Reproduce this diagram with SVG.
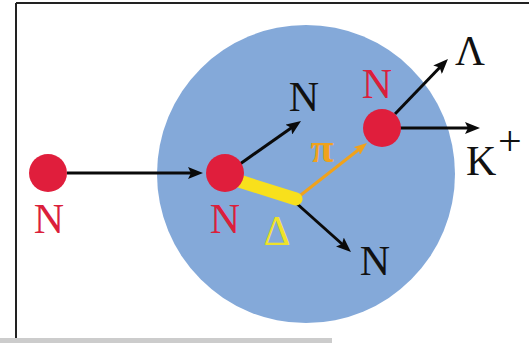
<svg xmlns="http://www.w3.org/2000/svg" width="529" height="343" viewBox="0 0 529 343">
  <style>
    .lbl { font-family: "Liberation Serif", "Times New Roman", serif; font-size: 42px; text-anchor: middle; }
    .red { fill: #db1f3b; }
    .blk { fill: #111111; }
    .node { fill: #e01e3c; }
    .arrow { stroke: #0a0a0a; stroke-width: 3; fill: none; }
    .pion { stroke: #f0a21c; stroke-width: 3; fill: none; }
  </style>
  <defs>
    <marker id="ah" markerUnits="userSpaceOnUse" markerWidth="15" markerHeight="12" viewBox="0 0 15 12" refX="9" refY="6" orient="auto">
      <path d="M0,0 L15,6 L0,12 L3,6 z" fill="#0a0a0a"/>
    </marker>
    <marker id="ahp" markerUnits="userSpaceOnUse" markerWidth="13" markerHeight="10" viewBox="0 0 13 10" refX="7" refY="5" orient="auto">
      <path d="M0,0 L13,5 L0,10 L2.5,5 z" fill="#f0a21c"/>
    </marker>
  </defs>
  <rect x="0" y="0" width="529" height="343" fill="#ffffff"/>
  <!-- frame -->
  <line x1="16" y1="3" x2="529" y2="3" stroke="#222" stroke-width="2"/>
  <line x1="16" y1="3" x2="16" y2="338" stroke="#222" stroke-width="2"/>
  <rect x="0" y="338" width="332" height="5" fill="#cccccc"/>

  <g id="nucleus">
    <circle cx="306" cy="174" r="149" fill="#84a9d9"/>
  </g>

  <g id="connectors">
    <line class="arrow" x1="67" y1="173" x2="197" y2="173" marker-end="url(#ah)"/>
    <line class="arrow" x1="240" y1="164" x2="296.1" y2="124.4" marker-end="url(#ah)"/>
    <line class="arrow" x1="295" y1="202" x2="346.5" y2="248" marker-end="url(#ah)"/>
    <line class="pion" x1="297" y1="198" x2="362.3" y2="146.7" marker-end="url(#ahp)"/>
    <line class="arrow" x1="395" y1="114" x2="443.8" y2="63.3" marker-end="url(#ah)"/>
    <line class="arrow" x1="400" y1="128" x2="474" y2="128" marker-end="url(#ah)"/>
    <line x1="236" y1="180" x2="296" y2="199" stroke="#f8e01c" stroke-width="13" stroke-linecap="round"/>
  </g>

  <g id="n-incoming">
    <circle class="node" cx="48" cy="173" r="19"/>
    <text class="lbl red" x="49" y="233">N</text>
  </g>
  <g id="n-target">
    <circle class="node" cx="225" cy="173" r="19"/>
    <text class="lbl red" x="225" y="233">N</text>
  </g>
  <g id="delta">
    <text class="lbl" x="277" y="245" fill="#efe22a">Δ</text>
  </g>
  <g id="pi">
    <text class="lbl" x="322" y="162" fill="#f0a21c" font-weight="bold" font-size="44">π</text>
  </g>
  <g id="n-upper">
    <text class="lbl blk" x="304" y="111">N</text>
  </g>
  <g id="n-lower">
    <text class="lbl blk" x="375" y="275">N</text>
  </g>
  <g id="n-second">
    <circle class="node" cx="382" cy="128" r="19"/>
    <text class="lbl red" x="377" y="98">N</text>
  </g>
  <g id="lambda">
    <text class="lbl blk" x="470" y="65" font-size="32" textLength="30" lengthAdjust="spacingAndGlyphs">Λ</text>
  </g>
  <g id="kaon">
    <text class="lbl blk" x="466" y="175" style="text-anchor:start">K</text>
    <text class="lbl blk" x="498" y="155" font-size="46" style="text-anchor:start">+</text>
  </g>
</svg>
